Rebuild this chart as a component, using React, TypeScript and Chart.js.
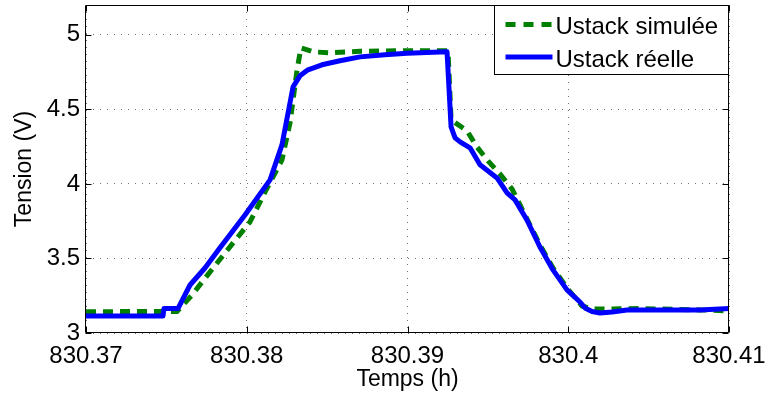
import React, { useEffect, useRef } from "react";
import { Chart, registerables } from "chart.js";
Chart.register(...registerables);

// ---- Data (time in hours, voltage in V) ----
const simTime = [
  830.37, 830.37566, 830.3766, 830.37722, 830.37791, 830.37865, 830.3802, 830.38114,
  830.38219, 830.38269, 830.38313, 830.38337, 830.38412, 830.38518, 830.38705, 830.38953,
  830.39252, 830.39271, 830.3937, 830.39432, 830.39501, 830.39575, 830.3965, 830.397,
  830.39824, 830.39905, 830.39992, 830.40086, 830.40148, 830.4026, 830.40446, 830.4082, 830.41,
];
const simVolt = [
  3.143, 3.144, 3.255, 3.342, 3.436, 3.537, 3.745, 3.946,
  4.161, 4.409, 4.765, 4.913, 4.886, 4.879, 4.889, 4.893,
  4.893, 4.43, 4.356, 4.248, 4.154, 4.067, 3.966, 3.859,
  3.591, 3.436, 3.302, 3.181, 3.161, 3.161, 3.164, 3.155, 3.148,
];
const realTime = [
  830.37, 830.37479, 830.37485, 830.37572, 830.37647, 830.3774, 830.37823, 830.37989,
  830.38145, 830.38219, 830.38288, 830.38331, 830.38381, 830.38468, 830.3858, 830.38705,
  830.3886, 830.38997, 830.39246, 830.39271, 830.39296, 830.39327, 830.39389, 830.39451,
  830.39557, 830.39619, 830.39669, 830.39743, 830.39824, 830.39905, 830.39992, 830.40073,
  830.40104, 830.40148, 830.40198, 830.40272, 830.40366, 830.40571, 830.4082, 830.41,
];
const realVolt = [
  3.114, 3.114, 3.164, 3.164, 3.322, 3.436, 3.557, 3.792,
  4.027, 4.262, 4.651, 4.725, 4.765, 4.799, 4.826, 4.852,
  4.866, 4.877, 4.886, 4.383, 4.309, 4.282, 4.242, 4.128,
  4.04, 3.94, 3.893, 3.758, 3.577, 3.423, 3.289, 3.208,
  3.168, 3.144, 3.134, 3.141, 3.154, 3.154, 3.154, 3.164,
];
const xTicks = [830.37, 830.38, 830.39, 830.4, 830.41];
const xTickLabels = ["830.37", "830.38", "830.39", "830.4", "830.41"];
const yTicks = [3, 3.5, 4, 4.5, 5];
const yTickLabels = ["3", "3.5", "4", "4.5", "5"];
const seriesNames = ["Ustack simulée", "Ustack réelle"];
const xTitle = "Temps (h)";
const yTitle = "Tension (V)";

const FONT = "'Liberation Sans', Arial, sans-serif";
const GREEN = "#007f00";
const BLUE = "#0000ff";

const framePlugin = {
  id: "frameAndLegend",
  afterDatasetsDraw(chart: any) {
    const { ctx, chartArea, scales } = chart;
    const { left, right, top, bottom } = chartArea;
    const xs = scales.x;
    const ys = scales.y;
    ctx.save();
    ctx.setLineDash([]);
    ctx.strokeStyle = "#000";
    ctx.lineWidth = 1;
    const L = Math.round(left) - 0.5;
    const R = Math.round(right) - 0.5;
    const T = Math.round(top) + 0.5;
    const B = Math.round(bottom) - 0.5;
    ctx.beginPath();
    ctx.rect(L, T, R - L, B - T);
    ctx.stroke();
    const tl = 6;
    ctx.beginPath();
    xTicks.forEach((v) => {
      const px = Math.round(xs.getPixelForValue(v)) + 0.5;
      ctx.moveTo(px, B);
      ctx.lineTo(px, B - tl);
      ctx.moveTo(px, T);
      ctx.lineTo(px, T + tl);
    });
    yTicks.forEach((v) => {
      const py = Math.round(ys.getPixelForValue(v)) + 0.5;
      ctx.moveTo(L, py);
      ctx.lineTo(L + tl, py);
      ctx.moveTo(R, py);
      ctx.lineTo(R - tl, py);
    });
    ctx.stroke();

    // Legend box
    const bw = 234;
    const bh = 69;
    const bx = R - bw;
    const by = T;
    ctx.fillStyle = "#fff";
    ctx.fillRect(bx, by, bw, bh);
    ctx.strokeStyle = "#000";
    ctx.strokeRect(bx, by, bw, bh);
    const sx0 = bx + 11;
    const sx1 = bx + 58;
    ctx.lineWidth = 5;
    ctx.strokeStyle = GREEN;
    ctx.setLineDash([10, 8]);
    ctx.beginPath();
    ctx.moveTo(sx0, by + 19);
    ctx.lineTo(sx1, by + 19);
    ctx.stroke();
    ctx.setLineDash([]);
    ctx.strokeStyle = BLUE;
    ctx.beginPath();
    ctx.moveTo(sx0, by + 51.5);
    ctx.lineTo(sx1, by + 51.5);
    ctx.stroke();
    ctx.fillStyle = "#000";
    ctx.font = `24px ${FONT}`;
    ctx.textBaseline = "alphabetic";
    ctx.textAlign = "left";
    ctx.fillText(seriesNames[0], bx + 61, by + 28);
    ctx.fillText(seriesNames[1], bx + 61, by + 61);
    ctx.restore();
  },
};

const zeroPad = (s: any) => {
  s.paddingTop = 0;
  s.paddingBottom = 0;
  s.paddingLeft = 0;
  s.paddingRight = 0;
};

export default function App() {
  const ref = useRef<HTMLCanvasElement>(null);
  useEffect(() => {
    if (!ref.current) return;
    const chart = new Chart(ref.current, {
      type: "line",
      data: {
        datasets: [
          {
            label: seriesNames[0],
            data: simTime.map((t, i) => ({ x: t, y: simVolt[i] })),
            borderColor: GREEN,
            borderWidth: 5,
            borderDash: [10, 7],
            pointRadius: 0,
            tension: 0,
            fill: false,
            order: 2,
          },
          {
            label: seriesNames[1],
            data: realTime.map((t, i) => ({ x: t, y: realVolt[i] })),
            borderColor: BLUE,
            borderWidth: 5,
            borderJoinStyle: "round",
            borderCapStyle: "round",
            pointRadius: 0,
            tension: 0,
            fill: false,
            order: 1,
          },
        ],
      },
      options: {
        responsive: false,
        animation: false,
        events: [],
        layout: { padding: { top: 5, right: 36, left: 0, bottom: 0 } },
        plugins: { legend: { display: false }, tooltip: { enabled: false } },
        scales: {
          x: {
            type: "linear",
            min: 830.37,
            max: 830.41,
            afterFit: (s: any) => {
              s.height = 61;
              zeroPad(s);
            },
            afterBuildTicks: (s: any) => {
              s.ticks = xTicks.map((v) => ({ value: v }));
            },
            ticks: {
              autoSkip: false,
              maxRotation: 0,
              color: "#000",
              padding: 9,
              font: { family: FONT, size: 24 },
              callback: (_v: any, i: number) => xTickLabels[i],
            },
            grid: { color: "rgba(0,0,0,0.55)", lineWidth: 1, drawTicks: false },
            border: { display: false, dash: [1, 6] },
            title: {
              display: true,
              text: xTitle,
              color: "#000",
              font: { family: FONT, size: 23 },
              padding: { top: 0, bottom: 1 },
            },
          },
          y: {
            type: "linear",
            min: 3,
            max: 5.2,
            afterFit: (s: any) => {
              s.width = 86;
              zeroPad(s);
            },
            afterBuildTicks: (s: any) => {
              s.ticks = yTicks.map((v) => ({ value: v }));
            },
            ticks: {
              autoSkip: false,
              color: "#000",
              padding: 6,
              font: { family: FONT, size: 24 },
              callback: (_v: any, i: number) => yTickLabels[i],
            },
            grid: { color: "rgba(0,0,0,0.55)", lineWidth: 1, drawTicks: false },
            border: { display: false, dash: [1, 6] },
            title: {
              display: true,
              text: yTitle,
              color: "#000",
              font: { family: FONT, size: 23 },
              padding: { top: 11, bottom: 0 },
            },
          },
        },
      },
      plugins: [framePlugin],
    });
    return () => chart.destroy();
  }, []);
  return (
    <div style={{ position: "absolute", left: 0, top: 0, width: 765, height: 394, background: "#fff" }}>
      <canvas ref={ref} width={765} height={394} style={{ display: "block" }} />
    </div>
  );
}
